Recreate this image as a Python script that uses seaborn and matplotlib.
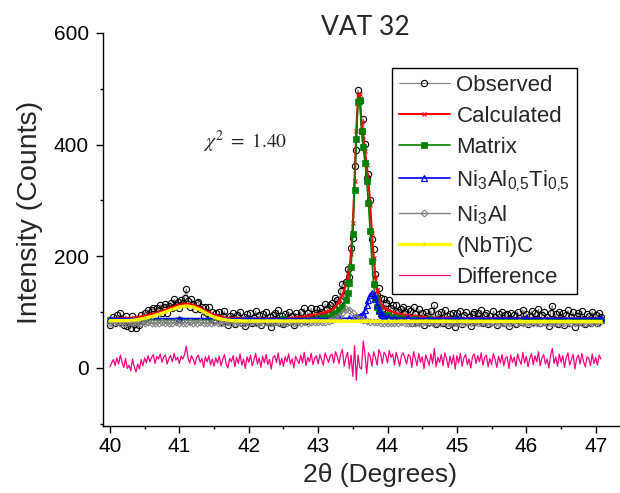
import numpy as np
import matplotlib
matplotlib.use("Agg")
import matplotlib.pyplot as plt
from matplotlib.ticker import MultipleLocator
import seaborn as sns

# observed counts, one value every 0.025 deg starting at 40.000
observed = [
    77, 85, 91, 80, 94, 83, 99, 86, 77, 93,
    75, 81, 72, 93, 79, 71, 85, 77, 94, 84,
    99, 90, 104, 94, 103, 108, 93, 107, 103, 113,
    99, 110, 114, 99, 111, 117, 107, 123, 112, 118,
    108, 122, 117, 126, 141, 120, 110, 123, 115, 105,
    117, 119, 105, 110, 93, 110, 99, 109, 90, 100,
    85, 99, 89, 100, 83, 93, 102, 84, 77, 93,
    87, 98, 78, 95, 84, 101, 81, 92, 75, 96,
    86, 99, 80, 90, 102, 83, 94, 77, 97, 85,
    100, 82, 91, 74, 95, 98, 86, 103, 81, 93,
    79, 96, 87, 101, 83, 93, 77, 98, 92, 86,
    101, 88, 107, 84, 99, 92, 107, 88, 99, 105,
    90, 108, 100, 91, 114, 106, 99, 112, 116, 103,
    126, 122, 114, 137, 151, 129, 154, 177, 163, 214,
    232, 361, 390, 498, 478, 425, 446, 401, 341, 347,
    300, 231, 213, 169, 131, 143, 125, 105, 123, 116,
    100, 121, 108, 112, 91, 113, 100, 87, 105, 109,
    100, 88, 105, 102, 81, 109, 96, 83, 105, 89,
    98, 77, 101, 93, 82, 102, 85, 112, 79, 96,
    87, 101, 80, 103, 93, 77, 97, 83, 99, 74,
    98, 85, 102, 79, 94, 100, 82, 92, 76, 97,
    101, 84, 98, 87, 103, 81, 95, 99, 78, 93,
    82, 102, 91, 77, 97, 85, 100, 80, 94, 96,
    75, 99, 86, 95, 79, 101, 90, 83, 104, 85,
    97, 78, 93, 102, 82, 98, 87, 105, 80, 94,
    100, 83, 92, 76, 99, 111, 84, 96, 79, 101,
    86, 98, 77, 95, 103, 81, 91, 100, 74, 93,
    99, 83, 102, 87, 78, 96, 93, 80, 101, 84,
    95, 81, 99, 92,
]

# difference curve (obs - calc, shifted), same grid as observed
difference = [
    2, 9, 15, 4, 18, 7, 23, 10, 1, 17,
    -1, 5, -5, 16, 2, -7, 7, -2, 15, 4,
    18, 9, 22, 11, 19, 24, 8, 21, 16, 25,
    10, 20, 23, 7, 17, 22, 11, 26, 14, 19,
    8, 21, 16, 24, 39, 18, 9, 22, 15, 6,
    19, 23, 10, 17, 1, 20, 11, 22, 5, 16,
    3, 18, 9, 21, 4, 15, 24, 7, 0, 17,
    11, 22, 2, 19, 8, 25, 5, 16, -1, 20,
    10, 23, 4, 14, 26, 7, 18, 1, 21, 9,
    24, 6, 15, -2, 19, 22, 10, 27, 5, 17,
    3, 20, 11, 25, 7, 16, 0, 21, 14, 8,
    23, 9, 28, 4, 19, 11, 26, 6, 17, 22,
    7, 24, 15, 5, 27, 18, 10, 22, 25, 9,
    29, 21, 8, 25, 33, 3, 19, 28, -1, 23,
    -15, 40, -22, 23, 1, -2, 48, 25, -10, 27,
    21, 3, 29, 19, 5, 33, 25, 8, 28, 23,
    9, 31, 19, 25, 5, 28, 16, 3, 22, 27,
    18, 7, 24, 21, 1, 29, 17, 4, 26, 10,
    20, -1, 23, 15, 5, 25, 8, 35, 2, 19,
    10, 24, 4, 27, 17, 1, 21, 7, 23, -2,
    22, 9, 26, 3, 18, 24, 6, 16, 0, 21,
    25, 8, 22, 11, 27, 5, 19, 23, 2, 17,
    6, 26, 15, 1, 21, 9, 24, 4, 18, 20,
    -1, 23, 10, 19, 3, 25, 14, 7, 28, 9,
    21, 2, 17, 26, 6, 22, 11, 29, 4, 18,
    24, 7, 16, 0, 23, 35, 8, 20, 3, 25,
    10, 22, 1, 19, 27, 5, 15, 24, -2, 17,
    23, 7, 26, 11, 2, 20, 17, 4, 25, 8,
    19, 5, 23, 16,
]

two_theta = np.round(40.0 + 0.025 * np.arange(len(observed)), 3)

calc_x = [40.0, 40.2, 40.3, 40.4, 40.5, 40.6, 40.7, 40.8, 40.9, 41.0,
          41.1, 41.2, 41.3, 41.4, 41.5, 41.6, 41.7, 41.8, 42.0, 42.5,
          42.6, 42.7, 42.8, 42.9, 43.0, 43.1, 43.15, 43.2, 43.25, 43.3,
          43.35, 43.4, 43.425, 43.45, 43.475, 43.5, 43.525, 43.55, 43.575, 43.6,
          43.625, 43.65, 43.675, 43.7, 43.725, 43.75, 43.775, 43.8, 43.825, 43.85,
          43.875, 43.9, 43.925, 43.95, 44.0, 44.1, 44.2, 44.3, 44.4, 44.5,
          44.6, 44.8, 45.0, 46.0, 47.08]
calc_y = [88.5, 88.8, 89.5, 91, 93.5, 96.5, 100, 104, 109, 113,
          115, 113, 108, 101, 95, 91.5, 89.5, 88.8, 88.5, 88.5,
          89.3, 90.5, 92, 94, 96, 100, 102, 104, 110, 119,
          131, 148, 162, 177, 204, 260, 334, 425, 488, 490,
          440, 411, 389, 364, 333, 292, 241, 197, 163, 139,
          123, 113, 110, 108, 104, 99, 96, 94, 92.5, 91.5,
          90.5, 89.5, 89, 88.8, 88.5]

matrix_x = [40.0, 41.0, 42.0, 42.5, 43.0, 43.1, 43.2, 43.25, 43.3, 43.35,
            43.4, 43.425, 43.45, 43.475, 43.5, 43.525, 43.55, 43.575, 43.6, 43.625,
            43.65, 43.675, 43.7, 43.725, 43.75, 43.775, 43.8, 43.825, 43.85, 43.875,
            43.9, 43.95, 44.0, 44.1, 44.2, 44.4, 44.6, 45.0, 46.0, 47.08]
matrix_y = [86, 86, 86.5, 87.5, 90, 92, 95, 98, 103, 110,
            122, 135, 152, 180, 240, 318, 410, 477, 480, 425,
            395, 368, 335, 295, 245, 192, 150, 125, 110, 102,
            97, 95, 94, 91.5, 90, 88.5, 87.5, 87, 86.5, 86]

ni3alti_x = [40.0, 41.0, 42.0, 43.0, 43.3, 43.45, 43.5, 43.525, 43.55, 43.575,
             43.6, 43.625, 43.65, 43.675, 43.7, 43.725, 43.75, 43.775, 43.8, 43.825,
             43.85, 43.875, 43.9, 43.925, 43.95, 44.0, 44.1, 44.3, 45.0, 46.0, 47.08]
ni3alti_y = [88.5, 88.5, 88.5, 88.5, 88.7, 89, 89.5, 90, 90.5, 91.5,
             92.5, 94, 97, 103, 112, 122, 131, 134, 131, 123,
             113, 104, 98, 95, 93, 91, 89.5, 89, 89, 89, 89]

# Ni3Al, one value every 0.05 deg
ni3al_y = [
    81, 80, 82, 81, 80, 81, 82, 80, 81, 81, 80, 82, 81, 80, 81, 82, 81, 80, 81, 82,
    80, 81, 81, 82, 80, 81, 82, 81, 80, 81, 82, 80, 81, 81, 82, 80, 81, 82, 81, 80,
    81, 82, 80, 81, 81, 82, 80, 81, 82, 81, 80, 81, 82, 81, 80, 81, 82, 81, 82, 82,
    82, 83, 83, 84, 86, 89, 93, 99, 105, 104, 98, 92, 88, 85, 84, 83, 82, 82, 81, 81,
    80, 81, 81, 80, 82, 81, 80, 81, 81, 80, 81, 82, 80, 81, 80, 81, 82, 80, 81, 80,
    81, 80, 81, 82, 80, 81, 80, 81, 81, 80, 82, 81, 80, 81, 80, 81, 81, 80, 82, 80,
    81, 80, 81, 80, 81, 82, 80, 81, 80, 81, 80, 81, 82, 80, 81, 80, 81, 80, 81, 80,
    81, 80,
]
ni3al_x = two_theta[::2]

nbtic_x = [40.0, 40.3, 40.4, 40.5, 40.6, 40.7, 40.8, 40.9, 41.0, 41.1,
           41.2, 41.3, 41.4, 41.5, 41.6, 41.7, 41.8, 42.0, 43.0, 44.0,
           45.0, 46.0, 47.08]
nbtic_y = [84.5, 85, 86.5, 89, 92, 96, 100, 105, 109, 111,
           109, 104, 97, 91, 87.5, 85.5, 84.5, 84, 84, 83.5,
           83.5, 83, 83]

sns.set_style("ticks")
plt.rcParams["font.family"] = ["Liberation Sans", "DejaVu Sans"]
plt.rcParams["mathtext.fontset"] = "stix"
plt.rcParams["axes.edgecolor"] = "black"
plt.rcParams["xtick.color"] = "black"
plt.rcParams["ytick.color"] = "black"

fig = plt.figure(figsize=(6.2, 4.93), dpi=100)
ax = fig.add_axes([103 / 620, 67 / 493, 517 / 620, 393 / 493])

common = dict(ax=ax, sort=False, estimator=None)

sns.lineplot(x=two_theta, y=observed, color="#808080", linewidth=0.8,
             marker="o", markersize=4.5, markerfacecolor="none",
             markeredgecolor="black", markeredgewidth=0.8,
             label="Observed", **common)
sns.lineplot(x=calc_x, y=calc_y, color="#ff0000", linewidth=1.5,
             marker="x", markersize=3.5, markeredgecolor="#ff0000",
             markeredgewidth=0.8, label="Calculated", **common)
sns.lineplot(x=matrix_x, y=matrix_y, color="#008000", linewidth=1.2,
             marker="s", markersize=4, markerfacecolor="#008000",
             markeredgecolor="#008000", markeredgewidth=0.5,
             label="Matrix", **common)
# U+201A looks like a comma but avoids mathtext punctuation spacing
sns.lineplot(x=ni3alti_x, y=ni3alti_y, color="#0000ff", linewidth=1.2,
             marker="^", markersize=5, markerfacecolor="none",
             markeredgecolor="#0000ff", markeredgewidth=0.9,
             label="Ni$_\\mathregular{3}$Al$_\\mathregular{0\u201a5}$Ti$_\\mathregular{0\u201a5}$",
             **common)
sns.lineplot(x=ni3al_x, y=ni3al_y, color="#808080", linewidth=1.0,
             marker="D", markersize=3.5, markerfacecolor="none",
             markeredgecolor="#808080", markeredgewidth=0.8,
             label=r"Ni$_\mathregular{3}$Al", **common)
sns.lineplot(x=nbtic_x, y=nbtic_y, color="#ffff00", linewidth=2.4,
             marker=".", markersize=2.5, markerfacecolor="#e0e000",
             markeredgecolor="#e0e000", label="(NbTi)C", **common)
sns.lineplot(x=two_theta, y=difference, color="#ff0080", linewidth=0.9,
             label="Difference", **common)

ax.set_xlim(39.9, 47.35)
ax.set_ylim(-104, 600)
ax.xaxis.set_major_locator(MultipleLocator(1))
ax.xaxis.set_minor_locator(MultipleLocator(0.5))
ax.yaxis.set_major_locator(MultipleLocator(200))
ax.yaxis.set_minor_locator(MultipleLocator(100))
ax.tick_params(which="major", direction="out", length=5, width=1, labelsize=15)
ax.tick_params(which="minor", direction="out", length=2.5, width=1)
ax.tick_params(axis="x", pad=3)
ax.tick_params(axis="y", pad=5)
sns.despine(ax=ax)
for s in ("left", "bottom"):
    ax.spines[s].set_linewidth(1.0)

ax.set_xlabel("2θ (Degrees)", fontsize=19)
ax.xaxis.set_label_coords(0.536, -0.095)
ax.set_ylabel("Intensity (Counts)", fontsize=20.5)
ax.yaxis.set_label_coords(-0.116, 0.543)

fig.text(365 / 620, 1 - 35 / 493, "VAT 32", family=["Lato", "DejaVu Sans"],
         fontsize=19, ha="center", va="baseline")
ax.text(0.193, 0.707, r"$\chi^2\ =\ 1.40$", transform=ax.transAxes,
        fontsize=14, va="baseline")

leg = ax.legend(loc="upper left", bbox_to_anchor=(0.559, 0.911),
                borderaxespad=0, fontsize=16, frameon=True, fancybox=False,
                edgecolor="black", framealpha=1, handlelength=2.3,
                handletextpad=0.3, labelspacing=0.45, borderpad=0.3)
leg.get_frame().set_linewidth(1.0)

fig.savefig("out.png", dpi=100)
